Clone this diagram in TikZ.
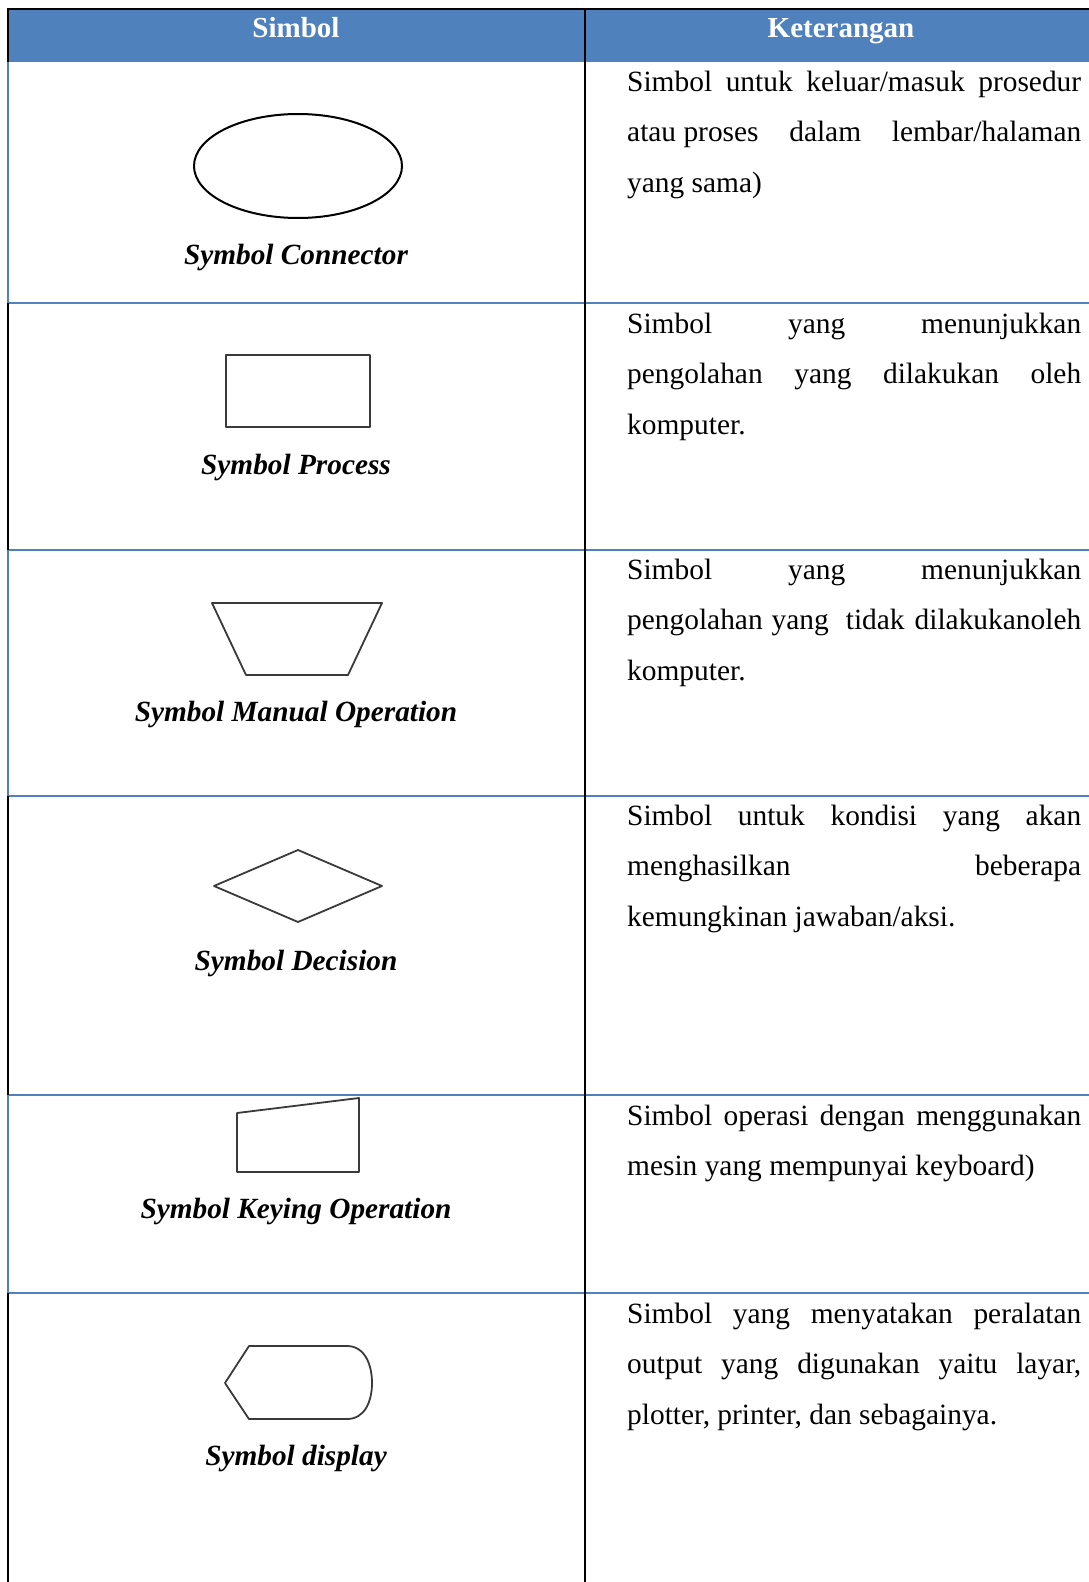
\documentclass[tikz,border=0pt]{standalone}
\usepackage{fontspec}
\setmainfont{Liberation Serif}
\definecolor{hdrblue}{HTML}{4F81BD}
\definecolor{shapegray}{HTML}{3A3A3A}
\begin{document}
\begin{tikzpicture}[x=1pt,y=-1pt,
  blueline/.style={draw=hdrblue, line width=2.5pt},
  blackline/.style={draw=black, line width=2.2pt},
  symshape/.style={draw=shapegray, line width=1.8pt, line join=round},
  lbl/.style={font=\fontsize{29.3}{34}\selectfont\bfseries\itshape, anchor=base, inner sep=0pt},
  body/.style={font=\fontsize{29.4}{34}\selectfont, anchor=base west, inner sep=0pt},
  hdr/.style={font=\fontsize{29}{34}\selectfont\bfseries, text=white, anchor=base, inner sep=0pt}]
\useasboundingbox (0,0) rectangle (1089,1582);
% header
\fill[hdrblue] (8,9) rectangle (1089,62);
\draw[blackline] (7,9) -- (1089,9);
\draw[blackline] (8,9) -- (8,62);
\node[hdr] (h1) at (296,37) {Simbol};
\node[hdr] (h2) at (841,37) {Keterangan};
% row separators
\foreach \yy in {303,550,796,1095,1293} \draw[blueline] (8,\yy) -- (1089,\yy);
% left border
\draw[blueline] (8,62) -- (8,303);
\draw[blackline] (8,303) -- (8,550);
\draw[blueline] (8,550) -- (8,796);
\draw[blackline] (8,796) -- (8,1095);
\draw[blueline] (8,1095) -- (8,1293);
\draw[blackline] (8,1293) -- (8,1582);
% column divider
\draw[draw=black, line width=2pt] (585,9) -- (585,1582);
% shapes
\draw[symshape, draw=black, line width=2pt] (298,166) ellipse [x radius=104, y radius=52];
\draw[symshape] (226,355) rectangle (370,427);
\draw[symshape] (212,603) -- (382,603) -- (348,675) -- (246,675) -- cycle;
\draw[symshape] (214,886) -- (298,850) -- (382,886) -- (298,922) -- cycle;
\draw[symshape] (237,1113) -- (359,1098) -- (359,1172) -- (237,1172) -- cycle;
\draw[symshape] (225,1383) -- (249,1346) -- (347,1346) .. controls (365,1346) and (372,1365) .. (372,1383) .. controls (372,1401) and (365,1419) .. (347,1419) -- (249,1419) -- cycle;
% labels
\node[lbl] (l1) at (296,264) {Symbol Connector};
\node[lbl] (l2) at (296,474) {Symbol Process};
\node[lbl] (l3) at (296,721) {Symbol Manual Operation};
\node[lbl] (l4) at (296,970) {Symbol Decision};
\node[lbl] (l5) at (296,1218) {Symbol Keying Operation};
\node[lbl] (l6) at (296,1465) {Symbol display};
% descriptions
\node[body] (d1a) at (627,91) {\hbox to 454pt{Simbol\hfill untuk\hfill keluar/masuk\hfill prosedur}};
\node[body] (d1b) at (627,141.5) {\hbox to 454pt{atau proses\hfill dalam\hfill lembar/halaman}};
\node[body] (d1c) at (627,192) {yang sama)};
\node[body] (d2a) at (627,333) {\hbox to 454pt{Simbol\hfill yang\hfill menunjukkan}};
\node[body] (d2b) at (627,383.5) {\hbox to 454pt{pengolahan\hfill yang\hfill dilakukan\hfill oleh}};
\node[body] (d2c) at (627,434) {komputer.};
\node[body] (d3a) at (627,579) {\hbox to 454pt{Simbol\hfill yang\hfill menunjukkan}};
\node[body] (d3b) at (627,629.5) {\hbox to 454pt{pengolahan\hspace{9pt}yang\hfill tidak\hspace{10pt}dilakukanoleh}};
\node[body] (d3c) at (627,680) {komputer.};
\node[body] (d4a) at (627,825) {\hbox to 454pt{Simbol\hfill untuk\hfill kondisi\hfill yang\hfill akan}};
\node[body] (d4b) at (627,875.5) {\hbox to 454pt{menghasilkan\hfill beberapa}};
\node[body] (d4c) at (627,926) {kemungkinan jawaban/aksi.};
\node[body] (d5a) at (627,1125) {\hbox to 454pt{Simbol\hfill operasi\hfill dengan\hfill menggunakan}};
\node[body] (d5b) at (627,1175.5) {mesin yang mempunyai keyboard)};
\node[body] (d6a) at (627,1323) {\hbox to 454pt{Simbol\hfill yang\hfill menyatakan\hfill peralatan}};
\node[body] (d6b) at (627,1373.5) {\hbox to 454pt{output\hfill yang\hfill digunakan\hfill yaitu\hfill layar,}};
\node[body] (d6c) at (627,1424) {plotter, printer, dan sebagainya.};
\end{tikzpicture}
\end{document}
